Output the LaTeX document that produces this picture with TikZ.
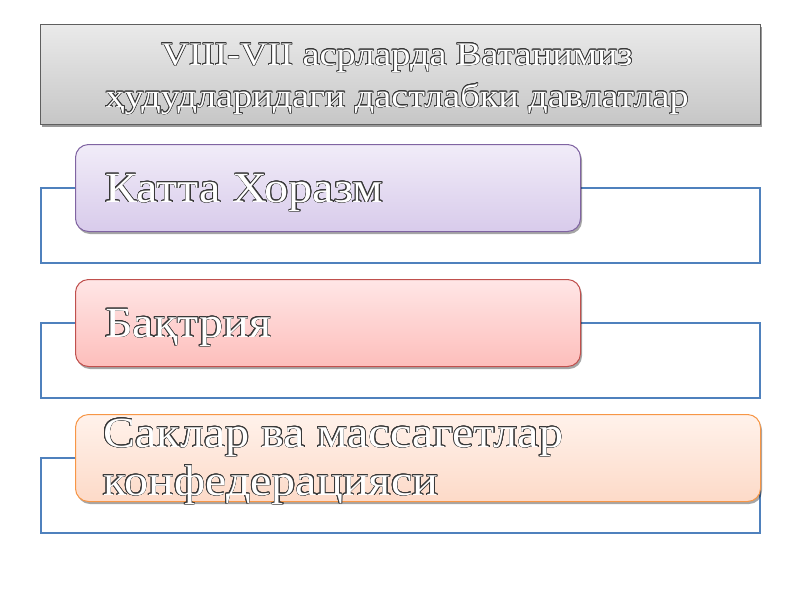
\documentclass[tikz,border=0pt]{standalone}
\usepackage{fontspec}
\setmainfont{Liberation Serif}
\newfontfamily\widefont[FakeStretch=1.12]{Liberation Serif}
\newfontfamily\widerfont[FakeStretch=1.16]{Liberation Serif}
\usepackage[copies]{contour}
\contourlength{0.65pt}
\usetikzlibrary{shadows}
\definecolor{bluel}{RGB}{79,129,189}
\definecolor{purpT}{RGB}{241,236,248}
\definecolor{purpB}{RGB}{216,203,235}
\definecolor{purpD}{RGB}{128,100,162}
\definecolor{pinkT}{RGB}{255,230,230}
\definecolor{pinkB}{RGB}{253,190,187}
\definecolor{pinkD}{RGB}{192,80,77}
\definecolor{peachT}{RGB}{255,242,235}
\definecolor{peachB}{RGB}{253,218,200}
\definecolor{peachD}{RGB}{247,150,70}
\definecolor{grayT}{RGB}{234,234,234}
\definecolor{grayB}{RGB}{198,198,198}
\definecolor{grayD}{RGB}{95,95,95}
\newcommand{\otx}[1]{\textcolor{white}{\contour{black!78}{#1}}}
\begin{document}
\begin{tikzpicture}[x=1pt,y=-1pt,
  bluebox/.style={draw=bluel,line width=2.2pt,anchor=north west,inner sep=0pt},
  cbox/.style={anchor=north west,inner sep=0pt,rounded corners=13pt,line width=1pt,
    drop shadow={shadow xshift=1.5pt,shadow yshift=-2.5pt,opacity=0.35,fill=black}},
  titlebox/.style={anchor=north west,inner sep=0pt,line width=1.3pt,draw=grayD,
    top color=grayT,bottom color=grayB,
    drop shadow={shadow xshift=1.5pt,shadow yshift=-2pt,opacity=0.4,fill=black}},
  bigtxt/.style={anchor=base west,inner sep=0pt,font=\widefont\fontsize{43}{48}\selectfont},
  ttltxt/.style={anchor=base,inner sep=0pt,font=\widerfont\fontsize{33}{40}\selectfont}]
\useasboundingbox (0,0) rectangle (800,600);
\fill[white] (0,0) rectangle (800,600);
% title
\node[titlebox,minimum width=720pt,minimum height=100pt] (title) at (40,24) {};
\node[ttltxt] (tl1) at (397,65) {\otx{VIII-VII асрларда Ватанимиз}};
\node[ttltxt] (tl2) at (397,107) {\otx{ҳудудларидаги дастлабки давлатлар}};
% blue frames
\node[bluebox,minimum width=719pt,minimum height=75pt] (r1) at (40,187) {};
\node[bluebox,minimum width=719pt,minimum height=75pt] (r2) at (40,322) {};
\node[bluebox,minimum width=719pt,minimum height=75pt] (r3) at (40,457) {};
% coloured boxes
\node[cbox,draw=purpD,top color=purpT,bottom color=purpB,minimum width=505pt,minimum height=87pt] (b1) at (75,144) {};
\node[cbox,draw=pinkD,top color=pinkT,bottom color=pinkB,minimum width=505pt,minimum height=87pt] (b2) at (75,279) {};
\node[cbox,draw=peachD,top color=peachT,bottom color=peachB,minimum width=685pt,minimum height=87pt] (b3) at (75,414) {};
% texts
\node[bigtxt] (t1) at (105,202) {\otx{Катта Хоразм}};
\node[bigtxt] (t2) at (105,337) {\otx{Бақтрия}};
\node[bigtxt] (t3a) at (103,447) {\otx{Саклар ва массагетлар}};
\node[bigtxt] (t3b) at (103,495) {\otx{конфедерацияси}};
\end{tikzpicture}
\end{document}
